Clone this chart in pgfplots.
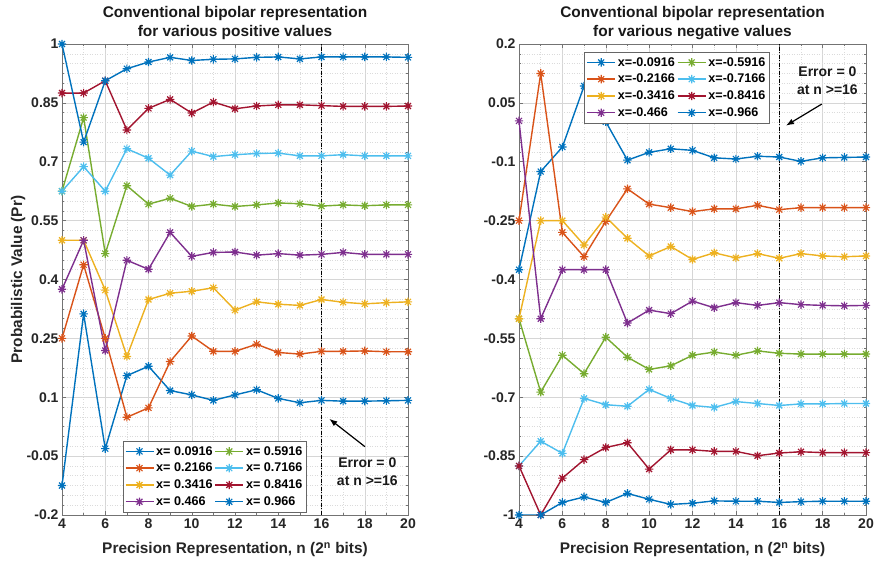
\documentclass[border=0pt]{standalone}
\usepackage{fontspec}
\setmainfont{Liberation Sans}
\usepackage{pgfplots}
\pgfplotsset{compat=1.18}
\usepackage{pgfplotstable}
\usetikzlibrary{arrows.meta}

\definecolor{c1}{rgb}{0,0.447,0.741}
\definecolor{c2}{rgb}{0.85,0.325,0.098}
\definecolor{c3}{rgb}{0.929,0.694,0.125}
\definecolor{c4}{rgb}{0.494,0.184,0.556}
\definecolor{c5}{rgb}{0.466,0.674,0.188}
\definecolor{c6}{rgb}{0.301,0.745,0.933}
\definecolor{c7}{rgb}{0.635,0.078,0.184}

\pgfdeclareplotmark{matlabast}{%
 \pgfpathmoveto{\pgfqpoint{\pgfplotmarksize}{0pt}}\pgfpathlineto{\pgfqpoint{-\pgfplotmarksize}{0pt}}%
 \pgfpathmoveto{\pgfqpoint{0pt}{\pgfplotmarksize}}\pgfpathlineto{\pgfqpoint{0pt}{-\pgfplotmarksize}}%
 \pgfpathmoveto{\pgfqpoint{.707\pgfplotmarksize}{.707\pgfplotmarksize}}\pgfpathlineto{\pgfqpoint{-.707\pgfplotmarksize}{-.707\pgfplotmarksize}}%
 \pgfpathmoveto{\pgfqpoint{-.707\pgfplotmarksize}{.707\pgfplotmarksize}}\pgfpathlineto{\pgfqpoint{.707\pgfplotmarksize}{-.707\pgfplotmarksize}}%
 \pgfusepathqstroke}

% positive values: a=0.0916 b=0.2166 c=0.3416 d=0.466 e=0.5916 f=0.7166 g=0.8416 h=0.966
\pgfplotstableread{
n  a       b      c      d      e      f      g       h
4  -0.125  0.25   0.5    0.375  0.625  0.625  0.875   1.0
5  0.3125  0.4375 0.5    0.5    0.8125 0.6875 0.875   0.75
6  -0.031  0.25   0.373  0.219  0.466  0.625  0.90625 0.90625
7  0.155   0.049  0.204  0.449  0.639  0.733  0.781   0.937
8  0.179   0.073  0.349  0.426  0.592  0.709  0.836   0.954
9  0.117   0.191  0.365  0.520  0.607  0.666  0.859   0.966
10 0.106   0.256  0.370  0.459  0.586  0.727  0.824   0.958
11 0.092   0.217  0.379  0.469  0.592  0.713  0.852   0.961
12 0.106   0.217  0.322  0.470  0.586  0.718  0.835   0.962
13 0.119   0.235  0.343  0.462  0.590  0.721  0.842   0.966
14 0.097   0.214  0.337  0.466  0.595  0.722  0.845   0.967
15 0.086   0.210  0.334  0.462  0.593  0.715  0.845   0.962
16 0.092   0.217  0.349  0.464  0.587  0.715  0.843   0.967
17 0.090   0.217  0.342  0.469  0.590  0.718  0.841   0.967
18 0.090   0.218  0.338  0.464  0.588  0.715  0.841   0.967
19 0.091   0.216  0.341  0.464  0.590  0.715  0.841   0.967
20 0.092   0.216  0.343  0.464  0.590  0.715  0.842   0.966
}\postab

% negative values
\pgfplotstableread{
n  a       b      c      d      e      f      g       h
4  -0.375  -0.25  -0.5   0.004  -0.5   -0.875 -0.875  -1.0
5  -0.125  0.125  -0.25  -0.5   -0.687 -0.812 -1.0    -1.0
6  -0.0625 -0.28  -0.25  -0.375 -0.593 -0.843 -0.906  -0.968
7  0.093   -0.342 -0.312 -0.375 -0.640 -0.703 -0.859  -0.954
8  0.002   -0.252 -0.241 -0.375 -0.547 -0.719 -0.828  -0.968
9  -0.096  -0.169 -0.295 -0.511 -0.598 -0.723 -0.816  -0.945
10 -0.076  -0.208 -0.340 -0.478 -0.629 -0.680 -0.883  -0.960
11 -0.067  -0.217 -0.316 -0.487 -0.620 -0.703 -0.834  -0.973
12 -0.071  -0.227 -0.349 -0.455 -0.593 -0.721 -0.834  -0.970
13 -0.090  -0.220 -0.332 -0.472 -0.585 -0.726 -0.838  -0.964
14 -0.093  -0.220 -0.345 -0.459 -0.593 -0.711 -0.838  -0.965
15 -0.086  -0.211 -0.334 -0.466 -0.582 -0.716 -0.849  -0.965
16 -0.088  -0.222 -0.346 -0.459 -0.588 -0.721 -0.842  -0.968
17 -0.099  -0.217 -0.334 -0.464 -0.590 -0.717 -0.839  -0.966
18 -0.090  -0.217 -0.340 -0.466 -0.590 -0.717 -0.841  -0.965
19 -0.089  -0.217 -0.342 -0.467 -0.590 -0.716 -0.841  -0.965
20 -0.088  -0.217 -0.340 -0.466 -0.590 -0.716 -0.841  -0.965
}\negtab

\pgfplotsset{
 mystyle/.style={
  scale only axis, height=471pt,
  xmin=4, xmax=20,
  xtick={4,6,...,20}, xticklabels={4,6,8,10,12,14,16,18,20},
  minor x tick num=1, minor y tick num=5,
  grid=both,
  major grid style={black!16, line width=0.5pt},
  minor grid style={black!14, line width=0.5pt, dotted},
  tick align=inside,
  major tick length=4pt, minor tick length=2pt,
  axis line style={black!55, line width=0.6pt},
  tick style={black!55, line width=0.5pt},
  tick label style={font=\bfseries\fontsize{14}{16}\selectfont, text=black!85},
  every axis title/.style={at={(0.5,1.0446)}, anchor=center, align=center,
    font=\bfseries\fontsize{15.4}{19.5}\selectfont, text=black!90},
  every axis x label/.style={at={(0.5,-0.0743)}, anchor=center,
    font=\bfseries\fontsize{15.4}{18}\selectfont, text=black!85},
  every axis y label/.style={at={(-0.127,0.5)}, rotate=90, anchor=center,
    font=\bfseries\fontsize{15.4}{18}\selectfont, text=black!85},
  every axis plot/.append style={line width=1.4pt, mark=matlabast, mark size=4.2pt,
    mark options={solid, line width=1.15pt}},
  legend columns=2,
  legend cell align=left,
  legend image code/.code={\draw[mark repeat=2,mark phase=2,#1] plot coordinates {(0pt,0pt) (14pt,0pt) (28pt,0pt)};},
  legend style={font=\bfseries\fontsize{12.6}{14}\selectfont, draw=black!60, fill=white,
    line width=0.5pt, inner xsep=2pt, inner ysep=3pt, row sep=2.5pt},
 }
}

\begin{document}
\begin{tikzpicture}
\useasboundingbox (0,0) rectangle (877pt,564pt);

\begin{axis}[mystyle,
  at={(62pt,49pt)}, anchor=south west, width=346pt,
  ymin=-0.2, ymax=1,
  ytick={-0.2,-0.05,0.1,0.25,0.4,0.55,0.7,0.85,1},
  yticklabels={-0.2,-0.05,0.1,0.25,0.4,0.55,0.7,0.85,1},
  title={Conventional bipolar representation\\for various positive values},
  xlabel={Precision Representation, n (2\textsuperscript{n} bits)},
  ylabel={Probabilistic Value (Pr)},
  legend style={at={(0.175,0.006)}, anchor=south west},
]
\addplot[c1] table[x=n,y=a] {\postab};
\addlegendentry{x= 0.0916}
\addplot[c5] table[x=n,y=e] {\postab};
\addlegendentry{x= 0.5916}
\addplot[c2] table[x=n,y=b] {\postab};
\addlegendentry{x= 0.2166}
\addplot[c6] table[x=n,y=f] {\postab};
\addlegendentry{x= 0.7166}
\addplot[c3] table[x=n,y=c] {\postab};
\addlegendentry{x= 0.3416}
\addplot[c7] table[x=n,y=g] {\postab};
\addlegendentry{x= 0.8416}
\addplot[c4] table[x=n,y=d] {\postab};
\addlegendentry{x= 0.466}
\addplot[c1] table[x=n,y=h] {\postab};
\addlegendentry{x= 0.966}
\addplot[black, line width=0.6pt, mark=none, forget plot,
  dash pattern=on 4pt off 1.5pt on 1pt off 1.5pt] coordinates {(16,-0.2) (16,1)};
\draw[-{Latex[length=8pt,width=6pt]}, line width=1.2pt, black] (axis cs:18.01,-0.026) -- (axis cs:16.36,0.045);
\node[align=center, font=\bfseries\fontsize{14}{18}\selectfont, text=black!90] at (axis cs:18.12,-0.09) {Error = 0\\at n >=16};
\end{axis}

\begin{axis}[mystyle,
  at={(519pt,49pt)}, anchor=south west, width=347pt,
  ymin=-1, ymax=0.2,
  ytick={-1,-0.85,-0.7,-0.55,-0.4,-0.25,-0.1,0.05,0.2},
  yticklabels={-1,-0.85,-0.7,-0.55,-0.4,-0.25,-0.1,0.05,0.2},
  title={Conventional bipolar representation\\for various negative values},
  xlabel={Precision Representation, n (2\textsuperscript{n} bits)},
  legend style={at={(0.188,0.983)}, anchor=north west},
]
\addplot[c1] table[x=n,y=a] {\negtab};
\addlegendentry{x=-0.0916}
\addplot[c5] table[x=n,y=e] {\negtab};
\addlegendentry{x=-0.5916}
\addplot[c2] table[x=n,y=b] {\negtab};
\addlegendentry{x=-0.2166}
\addplot[c6] table[x=n,y=f] {\negtab};
\addlegendentry{x=-0.7166}
\addplot[c3] table[x=n,y=c] {\negtab};
\addlegendentry{x=-0.3416}
\addplot[c7] table[x=n,y=g] {\negtab};
\addlegendentry{x=-0.8416}
\addplot[c4] table[x=n,y=d] {\negtab};
\addlegendentry{x=-0.466}
\addplot[c1] table[x=n,y=h] {\negtab};
\addlegendentry{x=-0.966}
\addplot[black, line width=0.6pt, mark=none, forget plot,
  dash pattern=on 4pt off 1.5pt on 1pt off 1.5pt] coordinates {(16,-1) (16,0.2)};
\draw[-{Latex[length=8pt,width=6pt]}, line width=1.2pt, black] (axis cs:17.96,0.047) -- (axis cs:16.31,-0.008);
\node[align=center, font=\bfseries\fontsize{14}{18}\selectfont, text=black!90] at (axis cs:18.22,0.106) {Error = 0\\at n >=16};
\end{axis}
\end{tikzpicture}
\end{document}
